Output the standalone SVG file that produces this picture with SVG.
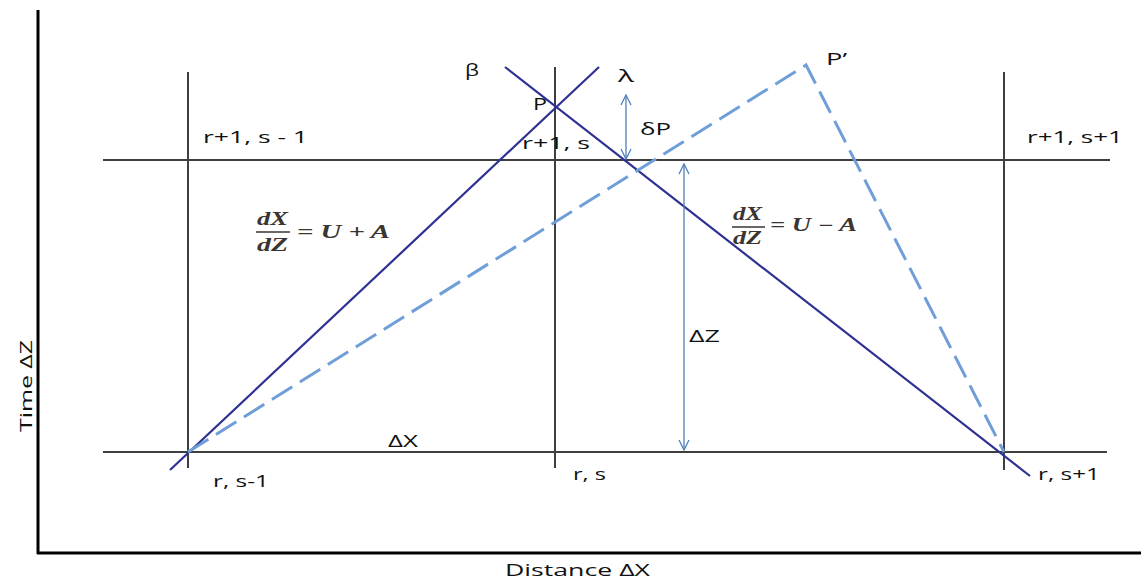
<svg xmlns="http://www.w3.org/2000/svg" width="1141" height="580" viewBox="0 0 1141 580">
<defs>
<style>
.grid{stroke:#3f3f3f;stroke-width:2;fill:none}
.axis{stroke:#000;stroke-width:3;fill:none}
.blue{stroke:#2e3192;stroke-width:2.2;fill:none}
.dash{stroke:#6f9ed8;stroke-width:3;fill:none;stroke-dasharray:24,9}
.arr{stroke:#4f7fb8;stroke-width:1.3;fill:none}
.lbl{font-family:"Open Sans","Liberation Sans",sans-serif;font-size:17px;fill:#111}
.math{font-family:"Liberation Serif",serif;font-style:italic;font-weight:bold;font-size:18px;fill:#3a3530}
.bar{stroke:#3a3530;stroke-width:1.5}
</style>
<marker id="ah" viewBox="0 0 12 12" refX="11" refY="6" markerWidth="12" markerHeight="12" markerUnits="userSpaceOnUse" orient="auto-start-reverse">
<path d="M1,1 L11,6 L1,11" fill="none" stroke="#4f7fb8" stroke-width="1.3"/>
</marker>
</defs>
<rect width="1141" height="580" fill="#fff"/>
<g id="axes">
<line class="axis" x1="38" y1="10" x2="38" y2="554"/>
<line class="axis" x1="37" y1="553" x2="1141" y2="553"/>
</g>
<g id="grid">
<line class="grid" x1="188" y1="72" x2="188" y2="468"/>
<line class="grid" x1="555" y1="67" x2="555" y2="468"/>
<line class="grid" x1="1004" y1="72" x2="1004" y2="470"/>
<line class="grid" x1="103" y1="160" x2="1110" y2="160"/>
<line class="grid" x1="103" y1="452" x2="1107" y2="452"/>
</g>
<g id="connectors">
<line class="blue" x1="170" y1="470" x2="599" y2="67"/>
<line class="blue" x1="505" y1="67" x2="1030" y2="476"/>
<polyline class="dash" points="188,452 806,65 1004,452"/>
<line class="arr" x1="626" y1="95" x2="626" y2="159" marker-start="url(#ah)" marker-end="url(#ah)"/>
<line class="arr" x1="684" y1="164" x2="684" y2="450" marker-start="url(#ah)" marker-end="url(#ah)"/>
</g>
<g id="labels">
<text class="lbl" x="465" y="76" textLength="14" lengthAdjust="spacingAndGlyphs">β</text>
<text class="lbl" x="618" y="82" textLength="16" lengthAdjust="spacingAndGlyphs">λ</text>
<text class="lbl" x="533" y="110" textLength="14" lengthAdjust="spacingAndGlyphs">P</text>
<text class="lbl" x="826" y="65" textLength="21" lengthAdjust="spacingAndGlyphs">P’</text>
<text class="lbl" x="640" y="135" textLength="31" lengthAdjust="spacingAndGlyphs">δP</text>
<text class="lbl" x="203" y="143" textLength="105" lengthAdjust="spacingAndGlyphs">r+1, s - 1</text>
<text class="lbl" x="522" y="149" textLength="68" lengthAdjust="spacingAndGlyphs">r+1, s</text>
<text class="lbl" x="1027" y="143" textLength="96" lengthAdjust="spacingAndGlyphs">r+1, s+1</text>
<text class="lbl" x="689" y="342" textLength="31" lengthAdjust="spacingAndGlyphs">ΔZ</text>
<text class="lbl" x="388" y="447" textLength="30" lengthAdjust="spacingAndGlyphs">ΔX</text>
<text class="lbl" x="213" y="487" textLength="56" lengthAdjust="spacingAndGlyphs">r, s-1</text>
<text class="lbl" x="573" y="480" textLength="33" lengthAdjust="spacingAndGlyphs">r, s</text>
<text class="lbl" x="1038" y="480" textLength="62" lengthAdjust="spacingAndGlyphs">r, s+1</text>
<text class="lbl" transform="translate(32,432) rotate(-90)" textLength="92" lengthAdjust="spacingAndGlyphs">Time ΔZ</text>
<text class="lbl" x="505" y="576" textLength="145" lengthAdjust="spacingAndGlyphs">Distance ΔX</text>
</g>
<g id="eq1">
<text class="math" x="257" y="225" textLength="31" lengthAdjust="spacingAndGlyphs">dX</text>
<line class="bar" x1="256" y1="232" x2="290" y2="232"/>
<text class="math" x="257" y="251" textLength="31" lengthAdjust="spacingAndGlyphs">dZ</text>
<text class="math" x="297" y="238" textLength="93" lengthAdjust="spacingAndGlyphs">= U + A</text>
</g>
<g id="eq2">
<text class="math" x="733" y="220" textLength="29" lengthAdjust="spacingAndGlyphs">dX</text>
<line class="bar" x1="732" y1="227" x2="765" y2="227"/>
<text class="math" x="733" y="244" textLength="29" lengthAdjust="spacingAndGlyphs">dZ</text>
<text class="math" x="770" y="231" textLength="87" lengthAdjust="spacingAndGlyphs">= U − A</text>
</g>
</svg>
